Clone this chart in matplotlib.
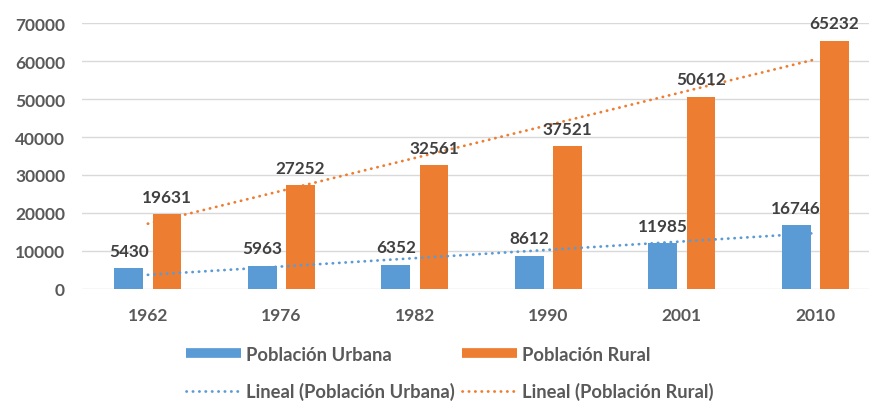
import numpy as np
import matplotlib
matplotlib.use("Agg")
import matplotlib.pyplot as plt
from matplotlib.lines import Line2D

years = ["1962", "1976", "1982", "1990", "2001", "2010"]
urbana = [5430, 5963, 6352, 8612, 11985, 16746]
rural = [19631, 27252, 32561, 37521, 50612, 65232]

blue = "#5B9BD5"
orange = "#ED7D31"
txt = "#595959"

plt.rcParams["font.family"] = ["Lato", "DejaVu Sans"]
plt.rcParams["font.weight"] = "bold"

fig = plt.figure(figsize=(8.7, 4.02), dpi=100)
ax = fig.add_axes([0.094, 0.279, 0.906, 0.661])

x = np.arange(len(years))
w = 0.215
off = 0.143
ax.bar(x - off, urbana, w, color=blue, zorder=3)
ax.bar(x + off, rural, w, color=orange, zorder=3)

for xi, v in zip(x - off, urbana):
    ax.annotate(str(v), (xi, v), xytext=(0, 7), textcoords="offset points",
                ha="center", va="bottom", fontsize=12.3, fontweight="bold", color="#404040", zorder=5)
for xi, v in zip(x + off, rural):
    ax.annotate(str(v), (xi, v), xytext=(0, 7), textcoords="offset points",
                ha="center", va="bottom", fontsize=12.3, fontweight="bold", color="#404040", zorder=5)

# linear trendlines (as in Excel, x = 1..n)
xs = np.arange(1, len(years) + 1)
pu = np.polyfit(xs, urbana, 1)
pr = np.polyfit(xs, rural, 1)
ls = (0, (0.1, 2.2))
ax.plot(x, np.polyval(pu, xs), color=blue, lw=2, linestyle=ls, dash_capstyle="round", zorder=4)
ax.plot(x, np.polyval(pr, xs), color=orange, lw=2, linestyle=ls, dash_capstyle="round", zorder=4)

ax.set_ylim(0, 70000)
ax.set_xlim(-0.495, 5.41)
ax.set_yticks(range(0, 70001, 10000))
ax.set_xticks(x)
ax.set_xticklabels(years)
ax.grid(axis="y", color="#D9D9D9", lw=1, zorder=0)
for s in ax.spines.values():
    s.set_visible(False)
ax.tick_params(length=0, colors=txt, labelsize=12.5)
ax.tick_params(axis="x", pad=13)
ax.tick_params(axis="y", pad=12)

handles = [
    Line2D([], [], color=blue, lw=7, solid_capstyle="butt"),
    Line2D([], [], color=blue, lw=2, linestyle=ls, dash_capstyle="round"),
    Line2D([], [], color=orange, lw=7, solid_capstyle="butt"),
    Line2D([], [], color=orange, lw=2, linestyle=ls, dash_capstyle="round"),
]
labels = ["Población Urbana", "Lineal (Población Urbana)",
          "Población Rural", "Lineal (Población Rural)"]
leg = fig.legend(handles, labels, ncol=2, loc="center", bbox_to_anchor=(0.517, 0.07),
                 frameon=False, fontsize=13.2, handlelength=3.0, handletextpad=0.3,
                 columnspacing=0.35, labelspacing=1.05, borderpad=0)
for t in leg.get_texts():
    t.set_color(txt)

fig.savefig("out.png", dpi=100)
